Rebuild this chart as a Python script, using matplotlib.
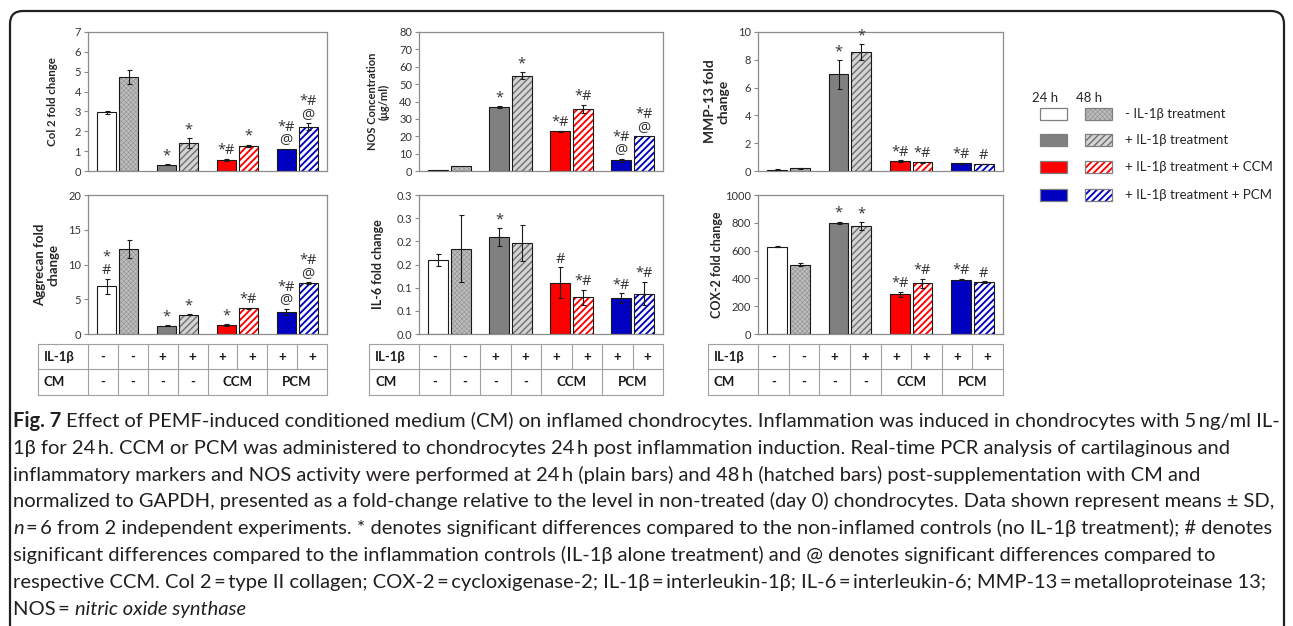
import matplotlib
matplotlib.use("Agg")
import matplotlib.pyplot as plt
from matplotlib.patches import Rectangle, FancyBboxPatch
import matplotlib.transforms as mtrans

W, H, DPI = 1293, 626, 100
plt.rcParams['font.family'] = ['Lato', 'DejaVu Sans']

# ---------------- data ----------------
conditions = ['- IL-1β treatment', '+ IL-1β treatment',
              '+ IL-1β treatment + CCM', '+ IL-1β treatment + PCM']
times = ['24 h', '48 h']
# bar order: (24h,48h) for each condition
col2_vals = [2.95, 4.75, 0.32, 1.40, 0.55, 1.27, 1.10, 2.24]
col2_err = [0.08, 0.35, 0.04, 0.25, 0.05, 0.06, 0.0, 0.16]
col2_marks = ['', '', '*', '*', '*#', '*', '*#\n@', '*#\n@']

nos_vals = [0.8, 2.6, 36.7, 54.8, 23.0, 35.8, 6.1, 20.0]
nos_err = [0.0, 0.0, 0.5, 2.0, 0.3, 2.2, 1.0, 0.0]
nos_marks = ['', '', '*', '*', '*#', '*#', '*#\n@', '*#\n@']

mmp_vals = [0.10, 0.19, 6.95, 8.55, 0.70, 0.62, 0.55, 0.50]
mmp_err = [0.02, 0.03, 1.05, 0.60, 0.07, 0.05, 0.03, 0.03]
mmp_marks = ['', '', '*', '*', '*#', '*#', '*#', '#']

agg_vals = [6.85, 12.2, 1.2, 2.78, 1.3, 3.68, 3.2, 7.32]
agg_err = [1.1, 1.3, 0.1, 0.1, 0.15, 0.1, 0.4, 0.1]
agg_marks = ['*\n#', '', '*', '*', '*', '*#', '*#\n@', '*#\n@']

il6_vals = [0.160, 0.184, 0.209, 0.197, 0.111, 0.079, 0.077, 0.087]
il6_err = [0.013, 0.072, 0.019, 0.039, 0.033, 0.017, 0.011, 0.025]
il6_marks = ['', '', '*', '', '#', '*#', '*#', '*#']
il6_ticklabels = ['0.0', '0.1', '0.1', '0.2', '0.2', '0.3', '0.3']

cox_vals = [629, 500, 801, 777, 287, 364, 390, 373]
cox_err = [3, 12, 8, 30, 18, 35, 5, 5]
cox_marks = ['', '', '*', '*', '*#', '*#', '*#', '#']

il1b_row = ['-', '-', '+', '+', '+', '+', '+', '+']
cm_row = ['-', '-', '-', '-']
cm_groups = ['CCM', 'PCM']

TS = '\u2009'  # thin space
caption_lines = [
    [("Fig. 7", 'bold', 'normal'),
     (f"Effect of PEMF-induced conditioned medium (CM) on inflamed chondrocytes. Inflammation was induced in chondrocytes with 5{TS}ng/ml IL-", 'normal', 'normal')],
    [(f"1β for 24{TS}h. CCM or PCM was administered to chondrocytes 24{TS}h post inflammation induction. Real-time PCR analysis of cartilaginous and", 'normal', 'normal')],
    [(f"inflammatory markers and NOS activity were performed at 24{TS}h (plain bars) and 48{TS}h (hatched bars) post-supplementation with CM and", 'normal', 'normal')],
    [("normalized to GAPDH, presented as a fold-change relative to the level in non-treated (day 0) chondrocytes. Data shown represent means ± SD,", 'normal', 'normal')],
    [("n", 'normal', 'italic'),
     (f"={TS}6 from 2 independent experiments. * denotes significant differences compared to the non-inflamed controls (no IL-1β treatment); # denotes", 'normal', 'normal')],
    [("significant differences compared to the inflammation controls (IL-1β alone treatment) and @ denotes significant differences compared to", 'normal', 'normal')],
    [(f"respective CCM. Col 2{TS}={TS}type II collagen; COX-2{TS}={TS}cycloxigenase-2; IL-1β{TS}={TS}interleukin-1β; IL-6{TS}={TS}interleukin-6; MMP-13{TS}={TS}metalloproteinase 13;", 'normal', 'normal')],
    [(f"NOS{TS}=", 'normal', 'normal'), ("nitric oxide synthase", 'normal', 'italic')],
]

# ---------------- styles ----------------
STYLES = [
    dict(face='white', hatch=None),
    dict(face='#bcbcbc', hatch='xxxxxxx', hc='#8c8c8c', hlw=0.35),
    dict(face='#808080', hatch=None),
    dict(face='#d4d4d4', hatch='/////', hc='#707070', hlw=1.0),
    dict(face='#ff0000', hatch=None),
    dict(face='white', hatch='/////', hc='#ff0000', hlw=1.35),
    dict(face='#0000c0', hatch=None),
    dict(face='white', hatch='/////', hc='#0000c0', hlw=1.35),
]
TXT = '#333333'
GRID = '#8c8c8c'
MARK_FONT = ['Open Sans', 'DejaVu Sans']

fig = plt.figure(figsize=(W / DPI, H / DPI), dpi=DPI)

# overlay axes in pixel coordinates
ov = fig.add_axes([0, 0, 1, 1])
ov.set_xlim(0, W)
ov.set_ylim(H, 0)
ov.axis('off')


def add_ax(x0, x1, y0, y1):
    return fig.add_axes([x0 / W, 1 - y1 / H, (x1 - x0) / W, (y1 - y0) / H])


BW = 0.32
OFF = 0.185


def bar_x():
    xs = []
    for g in range(len(conditions)):
        for t in range(len(times)):
            xs.append(g + (OFF if t else -OFF))
    return xs


def draw_panel(ax, vals, errs, marks, ylim, ticks, ticklabels, ylabel,
               lab_fs, lab_dx_px, ax_w_px, ax_h_px):
    xs = bar_x()
    for i, (x, v, e) in enumerate(zip(xs, vals, errs)):
        st = STYLES[i]
        if st['hatch']:
            plt.rcParams['hatch.linewidth'] = st['hlw']
            ax.bar(x, v, BW, color=st['face'], edgecolor=st['hc'],
                   hatch=st['hatch'], linewidth=0, zorder=2)
        else:
            ax.bar(x, v, BW, color=st['face'], linewidth=0, zorder=2)
        ax.bar(x, v, BW, fill=False, edgecolor='#1a1a1a', linewidth=0.8, zorder=3)
        if e > 0:
            ax.errorbar(x, v, yerr=e, fmt='none', ecolor='#1a1a1a',
                        elinewidth=0.8, capsize=1.8, capthick=0.8, zorder=4)
        if marks[i]:
            ax.annotate(marks[i], (x, v + e), xytext=(0, 0.5),
                        textcoords='offset points', ha='center', va='bottom',
                        fontsize=10.5, color=TXT, linespacing=0.85, zorder=5,
                        family=MARK_FONT)
    ax.set_xlim(-0.5, len(conditions) - 0.5)
    ax.set_ylim(*ylim)
    ax.set_yticks(ticks)
    ax.set_yticklabels(ticklabels)
    ax.set_xticks([])
    for s in ax.spines.values():
        s.set_color(GRID)
        s.set_linewidth(0.9)
    ax.tick_params(axis='y', direction='out', length=3, width=0.8,
                   color=GRID, labelsize=8, labelcolor=TXT, pad=2)
    ax.set_ylabel(ylabel, fontsize=lab_fs, fontweight='bold', color='#262626',
                  va='center', linespacing=1.1)
    ax.yaxis.set_label_coords(-lab_dx_px / ax_w_px, 0.5)


def draw_table(ax, ax_w_px, ax_h_px, left_px=50):
    xs = bar_x()
    x0, x1 = ax.get_xlim()
    bounds = [x0] + [(xs[i] + xs[i + 1]) / 2 for i in range(len(xs) - 1)] + [x1]
    xl = x0 - left_px * (x1 - x0) / ax_w_px
    tr = mtrans.blended_transform_factory(ax.transData, ax.transAxes)
    y_top = -(344 - 334) / ax_h_px
    y_mid = -(369 - 334) / ax_h_px
    y_bot = -(395 - 334) / ax_h_px
    lc = '#a0a0a0'
    kw = dict(transform=tr, color=lc, lw=0.8, clip_on=False)
    for y in (y_top, y_mid, y_bot):
        ax.plot([xl, x1], [y, y], **kw)
    for b in [xl] + bounds:
        ax.plot([b, b], [y_top, y_mid], **kw)
    for j, b in enumerate([xl] + bounds):
        if j in (6, 8):
            continue
        ax.plot([b, b], [y_mid, y_bot], **kw)
    tk = dict(transform=tr, fontsize=9.5, fontweight='bold', color='#1a1a1a',
              va='center', clip_on=False)
    pad = 6 * (x1 - x0) / ax_w_px
    ax.text(xl + pad, (y_top + y_mid) / 2, 'IL-1β', ha='left', **tk)
    ax.text(xl + pad, (y_mid + y_bot) / 2, 'CM', ha='left', **tk)
    for i, s in enumerate(il1b_row):
        ax.text((bounds[i] + bounds[i + 1]) / 2, (y_top + y_mid) / 2, s, ha='center', **tk)
    for i, s in enumerate(cm_row):
        ax.text((bounds[i] + bounds[i + 1]) / 2, (y_mid + y_bot) / 2, s, ha='center', **tk)
    for k, s in enumerate(cm_groups):
        a = bounds[4 + 2 * k]
        b = bounds[6 + 2 * k]
        ax.text((a + b) / 2, (y_mid + y_bot) / 2, s, ha='center', **tk)


cols = [(88, 327), (419, 663), (758, 1003)]
top_y = (32, 171)
bot_y = (195, 334)

ax1 = add_ax(cols[0][0], cols[0][1], *top_y)
draw_panel(ax1, col2_vals, col2_err, col2_marks, (0, 7), range(0, 8),
           [str(v) for v in range(0, 8)], 'Col 2 fold change', 8.3, 36,
           cols[0][1] - cols[0][0], 139)
ax2 = add_ax(cols[1][0], cols[1][1], *top_y)
draw_panel(ax2, nos_vals, nos_err, nos_marks, (0, 80), range(0, 81, 10),
           [str(v) for v in range(0, 81, 10)], 'NOS Concentration\n(μg/ml)', 8.0, 41,
           cols[1][1] - cols[1][0], 139)
ax3 = add_ax(cols[2][0], cols[2][1], *top_y)
draw_panel(ax3, mmp_vals, mmp_err, mmp_marks, (0, 10), range(0, 11, 2),
           [str(v) for v in range(0, 11, 2)], 'MMP-13 fold\nchange', 10, 41,
           cols[2][1] - cols[2][0], 139)
ax4 = add_ax(cols[0][0], cols[0][1], *bot_y)
draw_panel(ax4, agg_vals, agg_err, agg_marks, (0, 20), range(0, 21, 5),
           [str(v) for v in range(0, 21, 5)], 'Aggrecan fold\nchange', 9.5, 41,
           cols[0][1] - cols[0][0], 139)
ax5 = add_ax(cols[1][0], cols[1][1], *bot_y)
draw_panel(ax5, il6_vals, il6_err, il6_marks, (0, 0.3),
           [0, 0.05, 0.1, 0.15, 0.2, 0.25, 0.3], il6_ticklabels,
           'IL-6 fold change', 9.0, 41, cols[1][1] - cols[1][0], 139)
ax6 = add_ax(cols[2][0], cols[2][1], *bot_y)
draw_panel(ax6, cox_vals, cox_err, cox_marks, (0, 1000), range(0, 1001, 200),
           [str(v) for v in range(0, 1001, 200)], 'COX-2 fold change', 9.0, 41,
           cols[2][1] - cols[2][0], 139)

for ax, (c0, c1) in zip((ax4, ax5, ax6), cols):
    draw_table(ax, c1 - c0, 139)

# ---------------- legend ----------------
ov.text(1045, 98, times[0], ha='center', va='center', fontsize=9.5, color='#262626')
ov.text(1089, 98, times[1], ha='center', va='center', fontsize=9.5, color='#262626')
row_y = [114, 140, 167, 195]
for k, lab in enumerate(conditions):
    yc = row_y[k]
    for t, bx in enumerate((1040, 1085)):
        st = STYLES[2 * k + t]
        if st['hatch']:
            plt.rcParams['hatch.linewidth'] = st['hlw']
            ov.add_patch(Rectangle((bx, yc - 6), 27, 12, facecolor=st['face'],
                                   edgecolor=st['hc'], hatch=st['hatch'], lw=0))
        else:
            ov.add_patch(Rectangle((bx, yc - 6), 27, 12, facecolor=st['face'], lw=0))
        ov.add_patch(Rectangle((bx, yc - 6), 27, 12, fill=False,
                               edgecolor='#7f7f7f', lw=0.9))
    ov.text(1125, yc, lab, ha='left', va='center', fontsize=9.5, color='#262626')

# ---------------- border ----------------
ov.add_patch(FancyBboxPatch((10, 11), 1274, 680,
                            boxstyle='round,pad=0,rounding_size=13',
                            fill=False, edgecolor='#231f20', lw=1.6))

# ---------------- caption ----------------
renderer = fig.canvas.get_renderer()
CAP = '#231f20'


def seg_width(txt, fs, weight='normal', style='normal'):
    t = ov.text(0, 0, txt, fontsize=fs, fontweight=weight, fontstyle=style)
    w = t.get_window_extent(renderer).width
    t.remove()
    return w


def space_w(fs):
    return seg_width('a a', fs) - seg_width('aa', fs)


def line_width(segs, fs):
    sp_ = space_w(fs)
    return sum(seg_width(s, fs, wg, st) for s, wg, st in segs) + sp_ * (len(segs) - 1)


X0 = 13
fs0 = 12.0
cap_fs = fs0 * (1278 - X0) / line_width(caption_lines[0], fs0)
sp = space_w(cap_fs)

y0, dy = 427, 26.8
for i, segs in enumerate(caption_lines):
    x = X0
    y = y0 + i * dy
    for j, (s, wgt, sty) in enumerate(segs):
        t = ov.text(x, y, s, fontsize=cap_fs, fontweight=wgt, fontstyle=sty,
                    ha='left', va='baseline', color=CAP)
        gap = sp * 0.4 if (i == 4 and j == 0) else sp
        x = t.get_window_extent(renderer).x1 + gap

fig.savefig('out.png', dpi=DPI)
